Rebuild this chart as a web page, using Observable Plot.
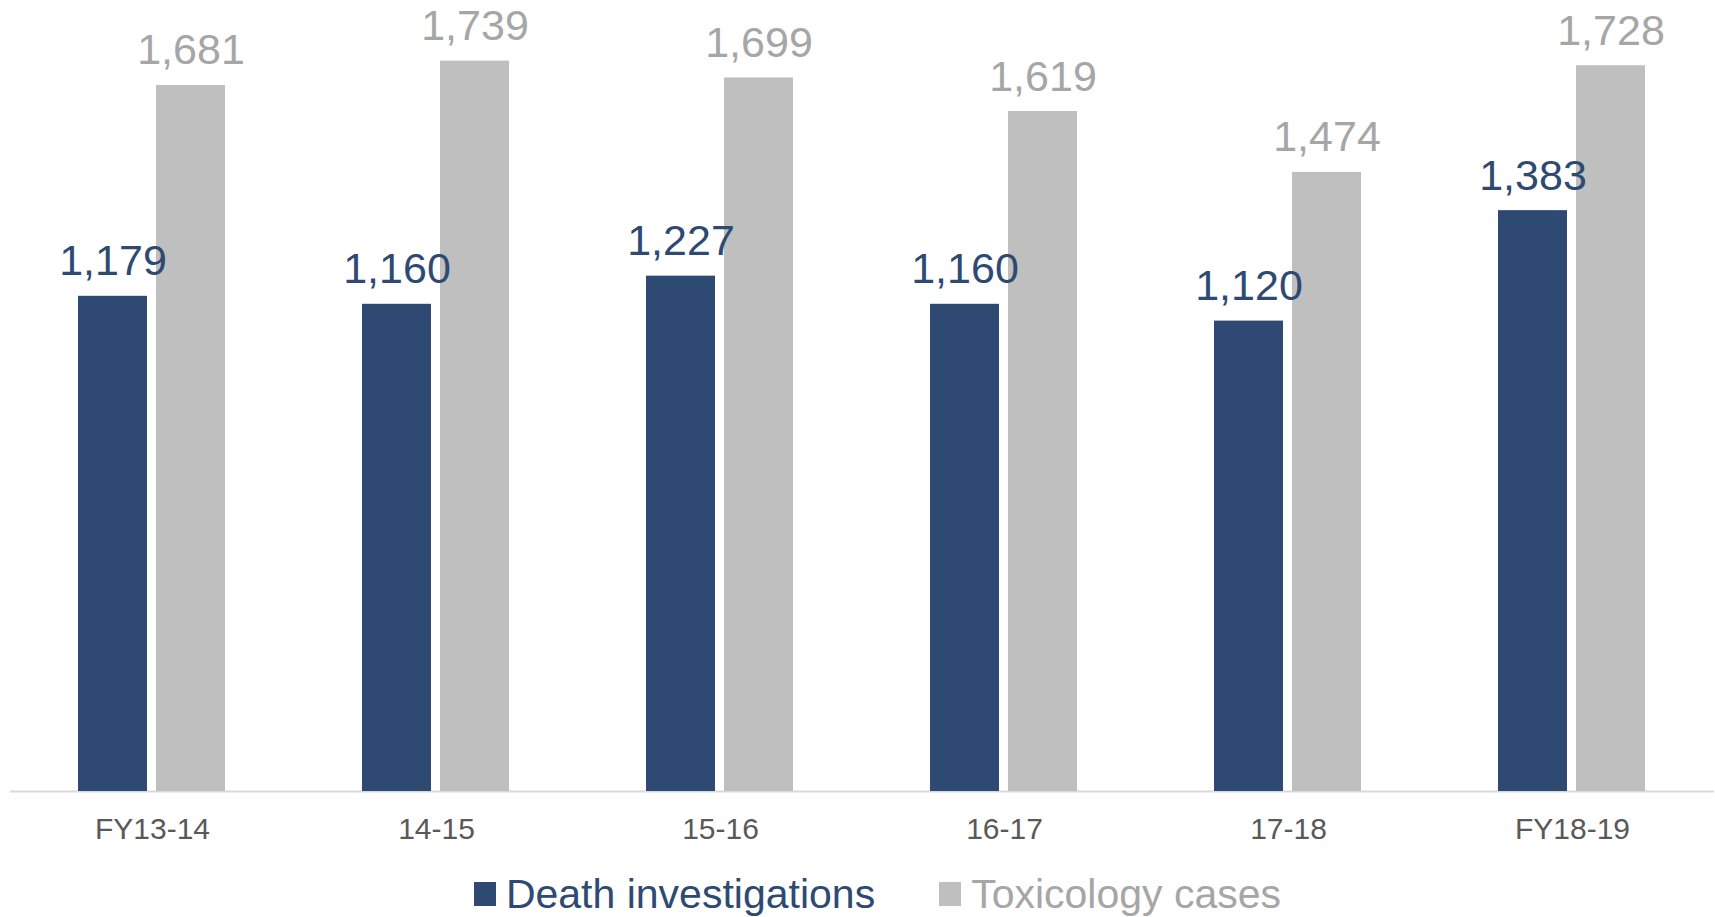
<!DOCTYPE html>
<html>
<head>
<meta charset="utf-8">
<script src="https://cdn.jsdelivr.net/npm/d3@7"></script>
<script src="https://cdn.jsdelivr.net/npm/@observablehq/plot@0.6"></script>
<style>
  html, body { margin: 0; padding: 0; background: #fff; overflow: hidden; }
  #legend { display: flex; justify-content: center; align-items: center; height: 44px;
    font-family: "Liberation Sans", Arial, sans-serif; font-size: 41px; padding-left: 40px; }
  .item { display: flex; align-items: center; }
  .sw { width: 22px; height: 24px; margin-right: 10px; }
  .gap { width: 64px; }
</style>
</head>
<body>
<div id="chart"></div>
<div id="legend"></div>
<script>
const years = ["FY13-14", "14-15", "15-16", "16-17", "17-18", "FY18-19"];
const deathInvestigations = [1179, 1160, 1227, 1160, 1120, 1383];
const toxicologyCases = [1681, 1739, 1699, 1619, 1474, 1728];
const seriesNames = ["Death investigations", "Toxicology cases"];
const barColors = ["#2E4A73", "#BFBFBF"];
const labelColors = ["#2E4A73", "#A6A6A6"];

const data = years.flatMap((y, i) => [
  {year: y, series: seriesNames[0], value: deathInvestigations[i]},
  {year: y, series: seriesNames[1], value: toxicologyCases[i]}
]);

const fmt = d3.format(",");

const chart = Plot.plot({
  width: 1715,
  height: 872,
  marginTop: 35,
  marginBottom: 81,
  marginLeft: 8,
  marginRight: 0,
  facet: {data, x: "year"},
  fx: {domain: years, padding: 0, axis: "bottom", tickSize: 0, tickPadding: 26, label: null},
  x: {domain: seriesNames, paddingInner: 0.114, paddingOuter: 0.8576, axis: null},
  y: {domain: [0, 1800], axis: null},
  color: {domain: seriesNames, range: barColors},
  style: {fontFamily: "'Liberation Sans', Arial, sans-serif", fontSize: "30px", color: "#595959", background: "white", overflow: "visible"},
  marks: [
    Plot.ruleY([0], {stroke: "#D9D9D9", strokeWidth: 2}),
    Plot.barY(data, {x: "series", y: "value", fill: "series"}),
    ...seriesNames.map((s, k) => Plot.text(data, {
      filter: d => d.series === s,
      x: "series", y: "value",
      text: d => fmt(d.value),
      fill: labelColors[k],
      lineAnchor: "bottom",
      dy: -21,
      fontSize: 43
    }))
  ]
});
document.getElementById("chart").appendChild(chart);

const legend = document.getElementById("legend");
seriesNames.forEach((s, k) => {
  if (k > 0) { const g = document.createElement("div"); g.className = "gap"; legend.appendChild(g); }
  const item = document.createElement("div"); item.className = "item";
  const sw = document.createElement("div"); sw.className = "sw"; sw.style.background = barColors[k];
  const t = document.createElement("span"); t.textContent = s; t.style.color = labelColors[k];
  item.appendChild(sw); item.appendChild(t); legend.appendChild(item);
});
</script>
</body>
</html>
